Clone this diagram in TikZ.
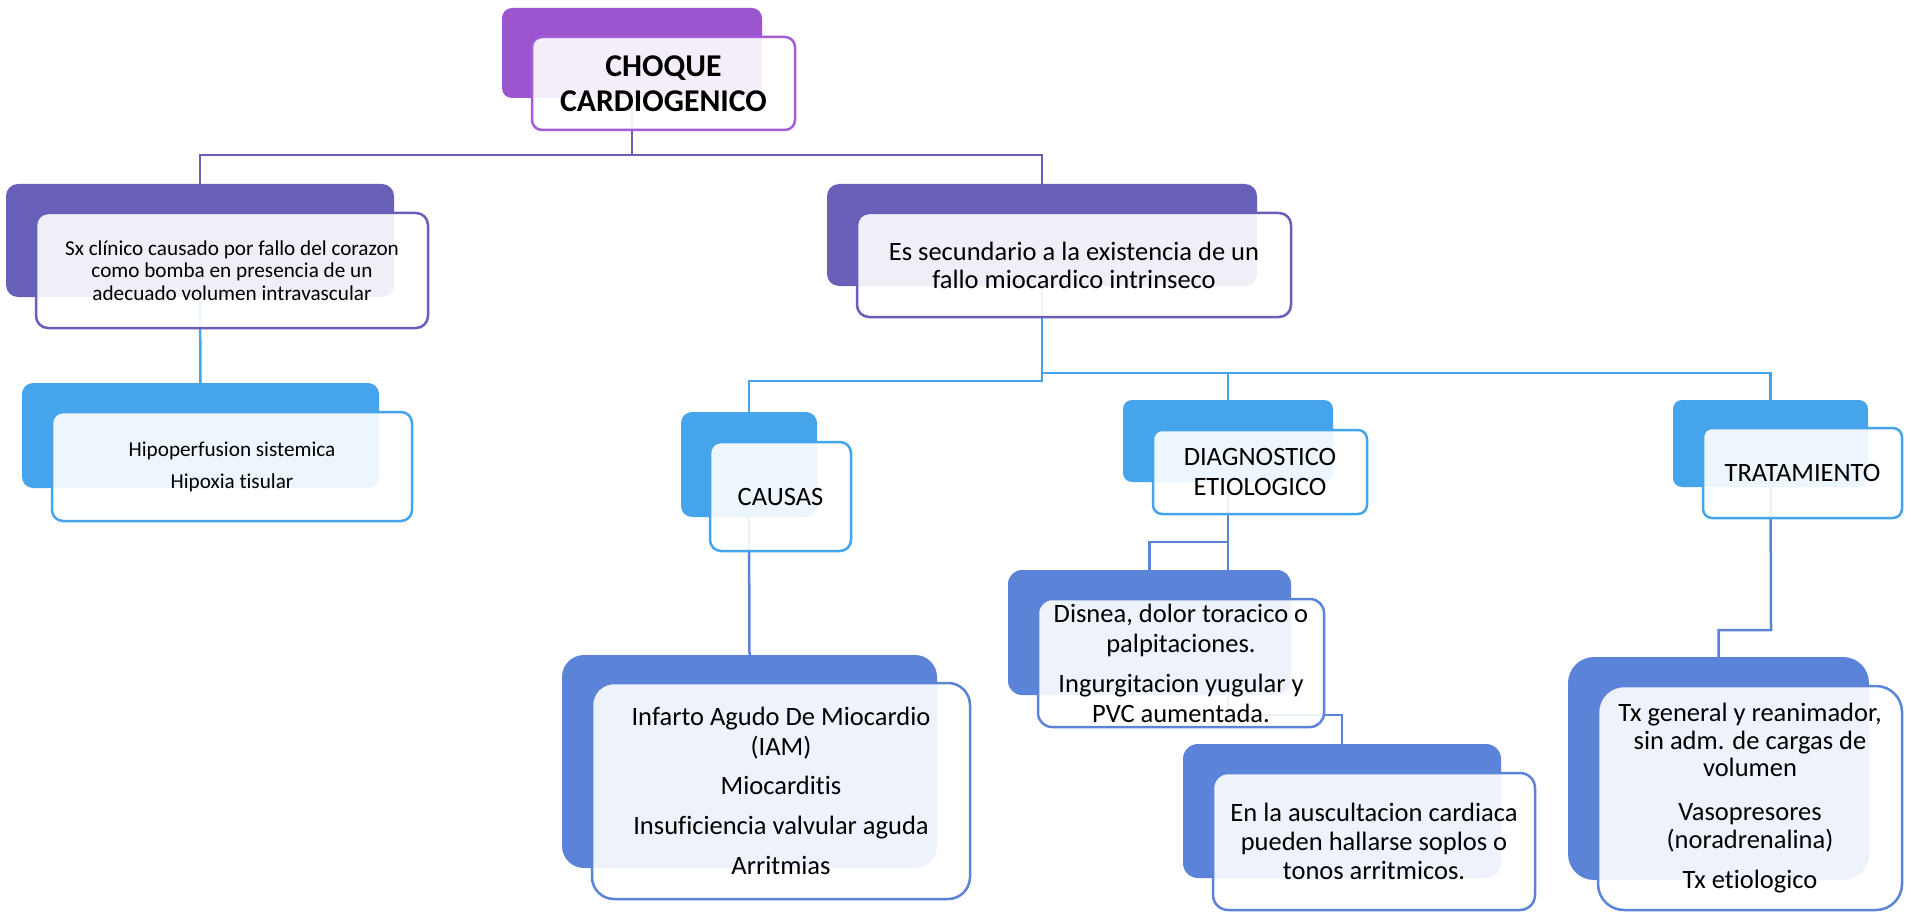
\documentclass[tikz,border=0pt]{standalone}
\usepackage{fontspec}
\setmainfont{Carlito}[Ligatures={NoCommon}]
\pgfdeclarelayer{back}
\pgfdeclarelayer{bg}
\pgfsetlayers{back,bg,main}
\definecolor{cPurple}{RGB}{155,86,207}
\definecolor{cPurpleB}{RGB}{163,93,214}
\definecolor{cIndigo}{RGB}{104,95,184}
\definecolor{cSky}{RGB}{70,165,234}
\definecolor{cBlue}{RGB}{91,132,216}
\tikzset{
  backbox/.style={fill=#1, draw=none, inner sep=0pt},
  frontbox/.style={draw=#1, fill=white, fill opacity=0.9, text opacity=1, draw opacity=1,
    line width=2.5pt, inner sep=0pt, align=center, text=black},
  conn/.style={draw=#1, line width=2.5pt},
  fbig/.style={font=\fontsize{26.5}{30}\selectfont},
  fsmall/.style={font=\fontsize{21.2}{22.5}\selectfont},
}
\begin{document}
\begin{tikzpicture}[x=1pt,y=-1pt]
\begin{pgfonlayer}{back}
\fill[white] (0,0) rectangle (1911,912);
\end{pgfonlayer}
\useasboundingbox (0,0) rectangle (1911,912);

% level 1
\node[backbox=cPurple, rounded corners=10pt, minimum width=260pt, minimum height=90pt] (choqueB) at (632,53) {};
\node[frontbox=cPurpleB, rounded corners=10pt, minimum width=263pt, minimum height=93pt,
  font=\bfseries\fontsize{31.7}{35}\selectfont] (choque) at (663.5,83.5) {CHOQUE\\CARDIOGENICO};

% level 2
\node[backbox=cIndigo, rounded corners=12pt, minimum width=388pt, minimum height=113pt] (sxB) at (200,240.5) {};
\node[frontbox=cIndigo, rounded corners=12pt, minimum width=392pt, minimum height=115pt, fsmall] (sx) at (232,270.5)
  {Sx clínico causado por fallo del corazon\\como bomba en presencia de un\\adecuado volumen intravascular};

\node[backbox=cIndigo, rounded corners=12pt, minimum width=430pt, minimum height=102pt] (esB) at (1042,235) {};
\node[frontbox=cIndigo, rounded corners=12pt, minimum width=434pt, minimum height=104pt,
  font=\fontsize{26.5}{28}\selectfont] (es) at (1074,265)
  {Es secundario a la existencia de un\\fallo miocardico intrinseco};

% level 3
\node[backbox=cSky, rounded corners=11pt, minimum width=357pt, minimum height=105pt] (hipoB) at (200.5,435.5) {};
\node[frontbox=cSky, rounded corners=11pt, minimum width=360pt, minimum height=109pt, fsmall] (hipo) at (232,466.5)
  {Hipoperfusion sistemica\\[9.5pt]Hipoxia tisular};

\node[backbox=cSky, rounded corners=11pt, minimum width=136pt, minimum height=105pt] (causasB) at (749,464.5) {};
\node[frontbox=cSky, rounded corners=11pt, minimum width=141pt, minimum height=109pt, fbig] (causas) at (780.5,496.5) {CAUSAS};

\node[backbox=cSky, rounded corners=9pt, minimum width=210pt, minimum height=82pt] (diagB) at (1228,441) {};
\node[frontbox=cSky, rounded corners=9pt, minimum width=214pt, minimum height=84pt, fbig] (diag) at (1260,472) {DIAGNOSTICO\\ETIOLOGICO};

\node[backbox=cSky, rounded corners=9pt, minimum width=195pt, minimum height=87pt] (tratB) at (1770.5,443.5) {};
\node[frontbox=cSky, rounded corners=9pt, minimum width=199pt, minimum height=90pt, fbig] (trat) at (1802.5,473) {TRATAMIENTO};

% level 4
\node[backbox=cBlue, rounded corners=22pt, minimum width=375pt, minimum height=213pt] (infB) at (749.5,761.5) {};
\node[frontbox=cBlue, rounded corners=22pt, minimum width=378pt, minimum height=216pt,
  font=\fontsize{26.5}{30.5}\selectfont] (inf) at (781,791)
  {Infarto Agudo De Miocardio\\(IAM)\\[8.5pt]Miocarditis\\[9.5pt]Insuficiencia valvular aguda\\[9.5pt]Arritmias};

\node[backbox=cBlue, rounded corners=14pt, minimum width=283pt, minimum height=125pt] (disB) at (1149.5,632.5) {};
\node[frontbox=cBlue, rounded corners=14pt, minimum width=286pt, minimum height=128pt, fbig] (dis) at (1181,663)
  {Disnea, dolor toracico o\\palpitaciones.\\[10pt]Ingurgitacion yugular y\\PVC aumentada.};

\node[backbox=cBlue, rounded corners=15pt, minimum width=318pt, minimum height=134pt] (auscB) at (1342,811) {};
\node[frontbox=cBlue, rounded corners=15pt, minimum width=322pt, minimum height=137pt,
  font=\fontsize{26.5}{29}\selectfont] (ausc) at (1374,841.5)
  {En la auscultacion cardiaca\\pueden hallarse soplos o\\tonos arritmicos.};

\node[backbox=cBlue, rounded corners=26pt, minimum width=301pt, minimum height=223pt] (txB) at (1718.5,768.5) {};
\node[frontbox=cBlue, rounded corners=26pt, minimum width=304pt, minimum height=224pt,
  font=\fontsize{26.5}{27.5}\selectfont] (tx) at (1750,798)
  {Tx general y reanimador,\\sin adm. de cargas de\\volumen\\[16.5pt]Vasopresores\\(noradrenalina)\\[12.5pt]Tx etiologico};

% connectors
\coordinate (j1) at (632,155);
\coordinate (j2) at (1042,381);
\coordinate (j3) at (1042,373);
\coordinate (j4) at (1228,542);
\coordinate (j5) at (1228,715);
\coordinate (j6) at (1771,630);
\begin{pgfonlayer}{bg}
\draw[conn=cIndigo] (choqueB.south) -- (j1) -| (sxB.north);
\draw[conn=cIndigo] (j1) -| (esB.north);
\draw[conn=cSky] (sxB.south) -- (hipoB.north);
\draw[conn=cSky] (esB.south) -- (j2) -| (causasB.north);
\draw[conn=cSky] (j3) -| (diagB.north);
\draw[conn=cSky] (j3) -| (tratB.north);
\draw[conn=cBlue] (causasB.south) -- (infB.north);
\draw[conn=cBlue] (diagB.south) -- (j4) -| (disB.north);
\draw[conn=cBlue] (j4) -- (j5) -| (auscB.north);
\draw[conn=cBlue] (tratB.south) -- (j6) -| (txB.north);
\end{pgfonlayer}
\end{tikzpicture}
\end{document}
